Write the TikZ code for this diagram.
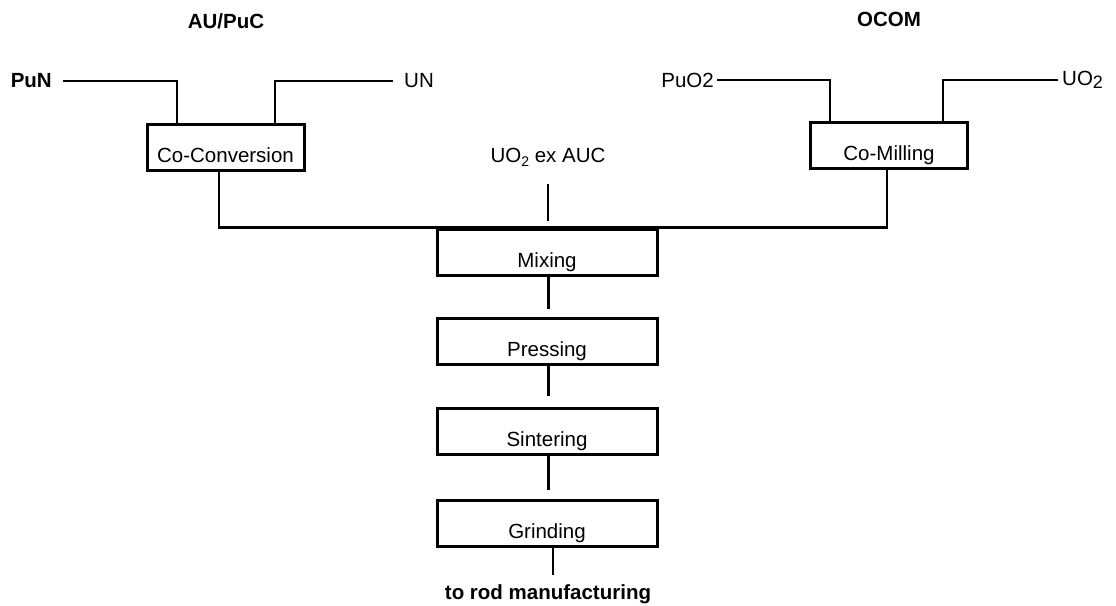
\documentclass[tikz,border=0pt]{standalone}
\usepackage{fontspec}
\setmainfont{Liberation Sans}
\begin{document}
\begin{tikzpicture}[x=1pt,y=-1pt,
  every node/.style={inner sep=0pt, font=\fontsize{20.5}{24}\selectfont},
  boldlbl/.style={font=\fontsize{20.5}{24}\selectfont\bfseries},
  stepbox/.style={draw, line width=3pt, minimum height=46pt, text height=30pt, text depth=0pt},
  smallbox/.style={stepbox, minimum width=157pt},
  widebox/.style={stepbox, minimum width=220pt},
  conn/.style={line width=2.2pt}]
\useasboundingbox (0,0) rectangle (1116,605);

% headings
\node[boldlbl] (aupuc) at (226,21) {AU/PuC};
\node[boldlbl] (ocom) at (889,19) {OCOM};

% inputs
\node[boldlbl, anchor=east] (pun) at (52,81) {PuN};
\node[anchor=west] (un) at (404,81) {UN};
\node[anchor=east] (puo) at (714,80) {PuO2};
\node[anchor=west] (uo) at (1062,80) {UO\raisebox{-3pt}{\fontsize{18}{18}\selectfont 2}};

% process boxes
\node[smallbox] (cc) at (225.5,147.5) {Co-Conversion};
\node[smallbox] (cm) at (889,145) {Co-Milling};
\node[anchor=base] (uoex) at (548,162) {UO\raisebox{-4pt}{\fontsize{14}{14}\selectfont 2} ex AUC};
\node[widebox] (mix) at (547,252) {Mixing};
\node[widebox] (pres) at (547,341) {Pressing};
\node[widebox] (sint) at (547,431) {Sintering};
\node[widebox] (grind) at (547,523) {Grinding};
\node[boldlbl, anchor=base] (rod) at (548,599) {to rod manufacturing};
\coordinate (rodend) at (553,575);

% connectors
\draw[conn, shorten <=11pt] (pun.east) -| ([xshift=-48.5pt]cc.north);
\draw[conn, shorten <=11pt] (un.west) -| ([xshift=49.5pt]cc.north);
\draw[conn, shorten <=3pt] (puo.east) -| ([xshift=-59pt]cm.north);
\draw[conn, shorten <=4pt] (uo.west) -| ([xshift=54pt]cm.north);
\draw[conn] ([xshift=-6.5pt]cc.south) |- ([xshift=-2pt]cm.south |- mix.north) -- ([xshift=-2pt]cm.south);
\draw[conn, shorten <=18pt, shorten >=7pt] (uoex.south) -- (uoex.south |- mix.north);
\draw[conn, shorten >=8pt] ([xshift=1.5pt]mix.south) -- ([xshift=1.5pt]pres.north);
\draw[conn, shorten >=11pt] ([xshift=1.5pt]pres.south) -- ([xshift=1.5pt]sint.north);
\draw[conn, shorten >=9pt] ([xshift=1.5pt]sint.south) -- ([xshift=1.5pt]grind.north);
\draw[conn] (grind.south -| rodend) -- (rodend);
\end{tikzpicture}
\end{document}
